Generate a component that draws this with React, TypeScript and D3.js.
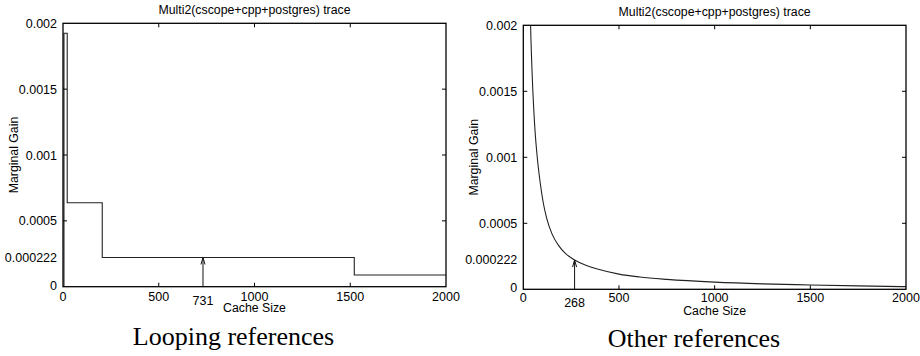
import React from "react";
import * as d3 from "d3";

// Axis ticks shared by both panels
const xTicks = [0, 500, 1000, 1500, 2000];
const yTicks = [0, 0.0005, 0.001, 0.0015, 0.002];
const yTickLabels = ["0", "0.0005", "0.001", "0.0015", "0.002"];
const markedGain = 0.000222;
const markedGainLabel = "0.000222";
const chartTitle = "Multi2(cscope+cpp+postgres) trace";

// Looping references: step function of marginal gain
const loopingSizes = [5, 5, 22, 205, 1521, 2000];
const loopingGains = [0, 0.001924, 0.000638, 0.000222, 0.0000888, 0.0000888];
const loopingMark = 731;

// Other references: smoothly decaying marginal gain
const otherSizes = [
  34, 38, 50, 60, 75, 90, 105, 122, 150, 183, 220, 268, 330, 392, 500, 609,
  750, 1000, 1250, 1500, 1750, 2000,
];
const otherGains = [
  0.00225, 0.002, 0.0015, 0.00123, 0.00097, 0.00079, 0.00065, 0.00054, 0.00042,
  0.000335, 0.000272, 0.000222, 0.00018, 0.000152, 0.000115, 0.000093,
  0.000075, 0.000054, 0.000041, 0.000033, 0.000026, 0.00002,
];
const otherMark = 268;

const SANS = "'Liberation Sans', Arial, Helvetica, sans-serif";
const SERIF = "'Liberation Serif', 'Times New Roman', serif";

type PanelProps = {
  id: string;
  left: number;
  top: number;
  width: number;
  height: number;
  sizes: number[];
  gains: number[];
  curve: d3.CurveFactory;
  mark: number;
  caption: string;
  captionX: number;
  titleY: number;
  tickLabelY: number;
  markLabelY: number;
  xLabelY: number;
  captionY: number;
};

function Panel(p: PanelProps) {
  const x = d3.scaleLinear().domain([0, 2000]).range([p.left, p.left + p.width]);
  const y = d3.scaleLinear().domain([0, 0.002]).range([p.top + p.height, p.top]);
  const pts: [number, number][] = p.sizes.map((s, i) => [s, p.gains[i]]);
  const line = d3
    .line<[number, number]>()
    .x((d) => x(d[0]))
    .y((d) => y(d[1]))
    .curve(p.curve);
  const bottom = y(0);
  const right = x(2000);
  const tick = 4;
  const mx = x(p.mark);
  const my = y(markedGain);
  const midY = (p.top + bottom) / 2;
  const cx = (p.left + right) / 2;

  return (
    <g>
      <defs>
        <clipPath id={p.id}>
          <rect x={p.left} y={p.top} width={p.width} height={p.height} />
        </clipPath>
      </defs>
      <text x={cx} y={p.titleY} textAnchor="middle" fontSize={12.3} fontFamily={SANS}>
        {chartTitle}
      </text>
      {/* data line */}
      <path
        d={line(pts) ?? ""}
        fill="none"
        stroke="#222"
        strokeWidth={1.1}
        clipPath={`url(#${p.id})`}
      />
      {/* marker arrow */}
      <line x1={mx} x2={mx} y1={bottom} y2={my} stroke="#111" strokeWidth={1} />
      <path
        d={`M${mx - 2},${my + 7} L${mx},${my} L${mx + 2},${my + 7}`}
        fill="none"
        stroke="#111"
        strokeWidth={1}
      />
      {/* frame */}
      <rect
        x={p.left}
        y={p.top}
        width={p.width}
        height={p.height}
        fill="none"
        stroke="#000"
        strokeWidth={1.3}
      />
      {/* x ticks */}
      {xTicks.map((t) => (
        <g key={"x" + t}>
          {t > 0 && t < 2000 && (
            <>
              <line x1={x(t)} x2={x(t)} y1={bottom} y2={bottom - tick} stroke="#000" />
              <line x1={x(t)} x2={x(t)} y1={p.top} y2={p.top + tick} stroke="#000" />
            </>
          )}
          <text x={x(t)} y={p.tickLabelY} textAnchor="middle" fontSize={12.5} fontFamily={SANS}>
            {t}
          </text>
        </g>
      ))}
      <text x={mx} y={p.markLabelY} textAnchor="middle" fontSize={12.5} fontFamily={SANS}>
        {p.mark}
      </text>
      <text x={cx} y={p.xLabelY} textAnchor="middle" fontSize={12.3} fontFamily={SANS}>
        Cache Size
      </text>
      {/* y ticks */}
      {yTicks.map((t, i) => (
        <g key={"y" + t}>
          {t > 0 && t < 0.002 && (
            <>
              <line x1={p.left} x2={p.left + tick} y1={y(t)} y2={y(t)} stroke="#000" />
              <line x1={right} x2={right - tick} y1={y(t)} y2={y(t)} stroke="#000" />
            </>
          )}
          <text
            x={p.left - 6}
            y={y(t) + (t === 0 ? 3 : 4.5)}
            textAnchor="end"
            fontSize={12.5}
            fontFamily={SANS}
          >
            {yTickLabels[i]}
          </text>
        </g>
      ))}
      <text
        x={p.left - 6}
        y={y(markedGain) + 4.5}
        textAnchor="end"
        fontSize={12.5}
        fontFamily={SANS}
      >
        {markedGainLabel}
      </text>
      <text
        transform={`translate(${p.left - 45},${midY}) rotate(-90)`}
        textAnchor="middle"
        fontSize={12.3}
        fontFamily={SANS}
      >
        Marginal Gain
      </text>
      <text x={p.captionX} y={p.captionY} textAnchor="middle" fontSize={26} fontFamily={SERIF}>
        {p.caption}
      </text>
    </g>
  );
}

export default function App() {
  return (
    <svg
      width={920}
      height={356}
      style={{ position: "absolute", left: 0, top: 0, background: "#fff" }}
    >
      <rect width={920} height={356} fill="#fff" />
      <Panel
        id="clip-looping"
        left={63}
        top={23.3}
        width={383}
        height={263.4}
        sizes={loopingSizes}
        gains={loopingGains}
        curve={d3.curveStepAfter}
        mark={loopingMark}
        caption="Looping references"
        captionX={233.5}
        titleY={13.5}
        tickLabelY={300.5}
        markLabelY={304.5}
        xLabelY={311.7}
        captionY={345}
      />
      <Panel
        id="clip-other"
        left={523.3}
        top={25.3}
        width={382.7}
        height={264}
        sizes={otherSizes}
        gains={otherGains}
        curve={d3.curveMonotoneX}
        mark={otherMark}
        caption="Other references"
        captionX={694}
        titleY={16}
        tickLabelY={302}
        markLabelY={307}
        xLabelY={315}
        captionY={346.7}
      />
    </svg>
  );
}
